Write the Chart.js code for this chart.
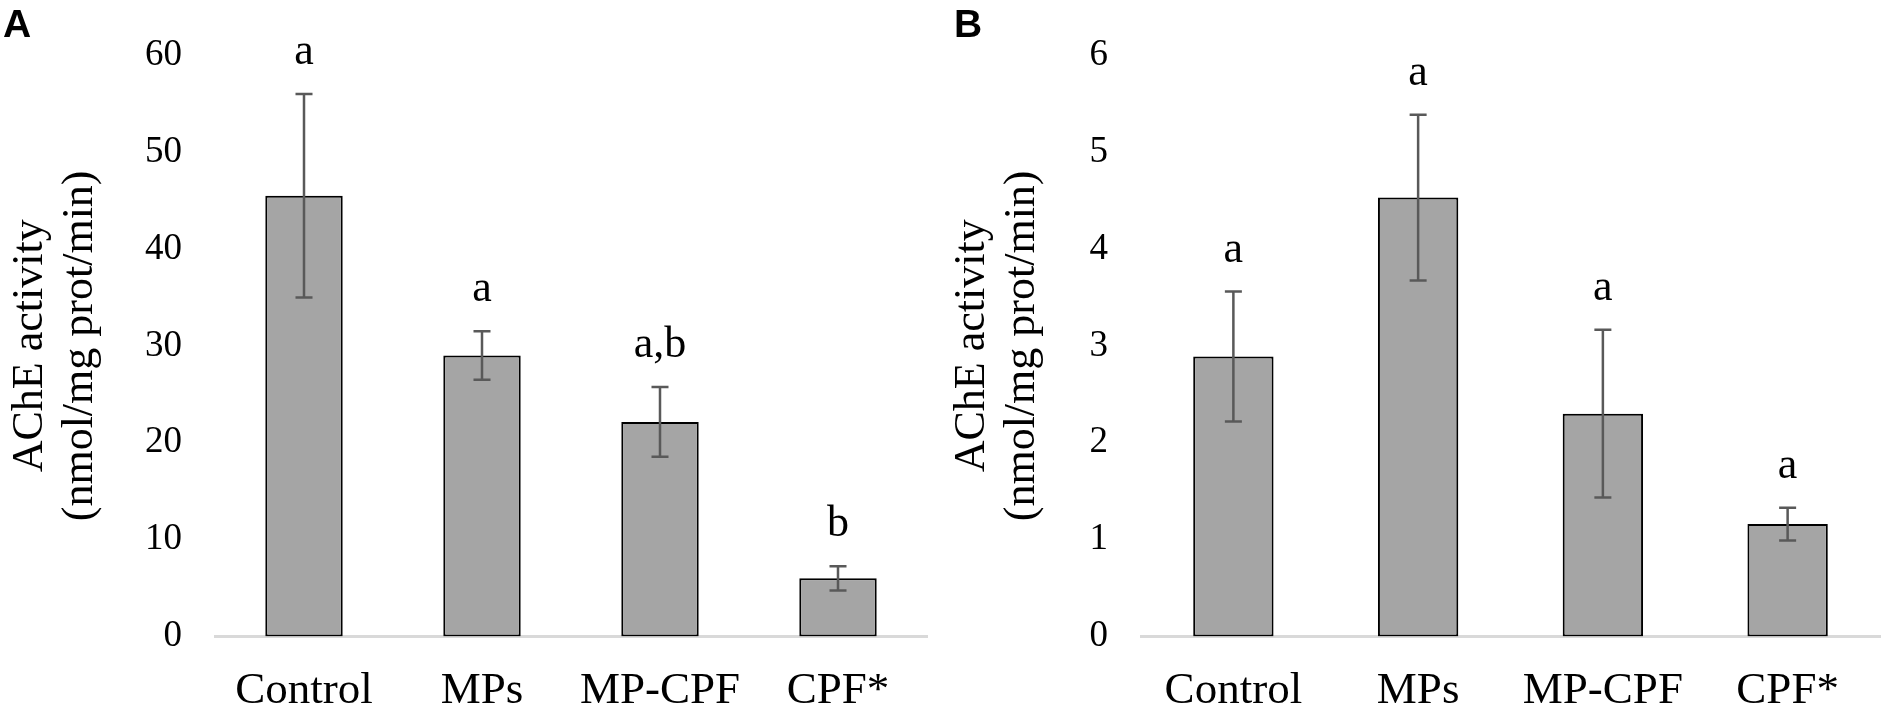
<!DOCTYPE html>
<html>
<head>
<meta charset="utf-8">
<script src="https://cdn.jsdelivr.net/npm/chart.js@4.4.1/dist/chart.umd.min.js"></script>
<style>
  html, body { margin: 0; padding: 0; background: #fff; }
  #wrap { position: relative; width: 1885px; height: 709px; }
  .panel { position: absolute; top: 0; height: 709px; }
  #boxA { left: 0; width: 942px; }
  #boxB { left: 942px; width: 943px; }
</style>
</head>
<body>
<div id="wrap">
  <div class="panel" id="boxA"><canvas id="chartA"></canvas></div>
  <div class="panel" id="boxB"><canvas id="chartB"></canvas></div>
</div>
<script>
// categories shared by both panels
const categories = ['Control', 'MPs', 'MP-CPF', 'CPF*'];

// panel A
const aMeans = [45.5, 29.0, 22.15, 6.0];
const aErrors = [10.5, 2.5, 3.6, 1.24];
const aLetters = ['a', 'a', 'a,b', 'b'];
const aMax = 60;
const aStep = 10;

// panel B
const bMeans = [2.89, 4.53, 2.30, 1.16];
const bErrors = [0.67, 0.855, 0.865, 0.17];
const bLetters = ['a', 'a', 'a', 'a'];
const bMax = 6;
const bStep = 1;

const yTitle = ['AChE activity', '(nmol/mg prot/min)'];
const serif = '"Liberation Serif", "Times New Roman", serif';

// error bars, letters above them and the panel tag
const extras = {
    id: 'extras',
    afterDatasetsDraw(chart, args, opts) {
        const ctx = chart.ctx;
        const y = chart.scales.y;
        const meta = chart.getDatasetMeta(0);
        ctx.save();
        meta.data.forEach((bar, i) => {
            const hi = y.getPixelForValue(opts.means[i] + opts.errors[i]);
            const lo = y.getPixelForValue(opts.means[i] - opts.errors[i]);
            ctx.strokeStyle = '#595959';
            ctx.lineWidth = 2.5;
            ctx.beginPath();
            ctx.moveTo(bar.x, hi);
            ctx.lineTo(bar.x, lo);
            ctx.moveTo(bar.x - 8.5, hi);
            ctx.lineTo(bar.x + 8.5, hi);
            ctx.moveTo(bar.x - 8.5, lo);
            ctx.lineTo(bar.x + 8.5, lo);
            ctx.stroke();

            ctx.fillStyle = '#000';
            ctx.font = '44px ' + serif;
            ctx.textAlign = 'center';
            ctx.textBaseline = 'alphabetic';
            ctx.fillText(opts.letters[i], bar.x, hi - 30);
        });
        // panel tag
        ctx.font = 'bold 39px "Liberation Sans", Arial, sans-serif';
        ctx.textAlign = 'left';
        ctx.fillStyle = '#000';
        ctx.fillText(opts.tag, opts.tagX, 37);
        ctx.restore();
    }
};

function makeChart(id, means, errors, letters, max, step, tag, tagX, yWidth, rightPad) {
    const ctx = document.getElementById(id).getContext('2d');
    return new Chart(ctx, {
        type: 'bar',
        data: {
            labels: categories,
            datasets: [{
                data: means,
                backgroundColor: '#a5a5a5',
                borderColor: '#000',
                borderWidth: 2,
                borderSkipped: false,
                barPercentage: 0.435,
                categoryPercentage: 1
            }]
        },
        options: {
            responsive: true,
            maintainAspectRatio: false,
            animation: false,
            layout: { padding: { top: 47.5, right: rightPad, bottom: 0, left: 0 } },
            plugins: {
                legend: { display: false },
                tooltip: { enabled: false },
                extras: { means, errors, letters, tag, tagX }
            },
            scales: {
                x: {
                    grid: { display: false },
                    border: { display: true, color: '#d9d9d9', width: 3 },
                    ticks: { color: '#000', font: { family: serif, size: 45 }, padding: 20 },
                    afterFit: (scale) => { scale.height = 72.5; }
                },
                y: {
                    min: 0,
                    max: max,
                    grid: { display: false, drawTicks: false },
                    border: { display: false },
                    ticks: { stepSize: step, color: '#000', font: { family: serif, size: 37 }, padding: 33 },
                    title: {
                        display: true,
                        text: yTitle,
                        color: '#000',
                        font: { family: serif, size: 44, lineHeight: 1.145 },
                        padding: { top: 5, bottom: 0 }
                    },
                    afterFit: (scale) => { scale.width = yWidth; }
                }
            }
        },
        plugins: [extras]
    });
}

makeChart('chartA', aMeans, aErrors, aLetters, aMax, aStep, 'A', 3, 215, 15);
makeChart('chartB', bMeans, bErrors, bLetters, bMax, bStep, 'B', 12, 199, 5);
</script>
</body>
</html>
